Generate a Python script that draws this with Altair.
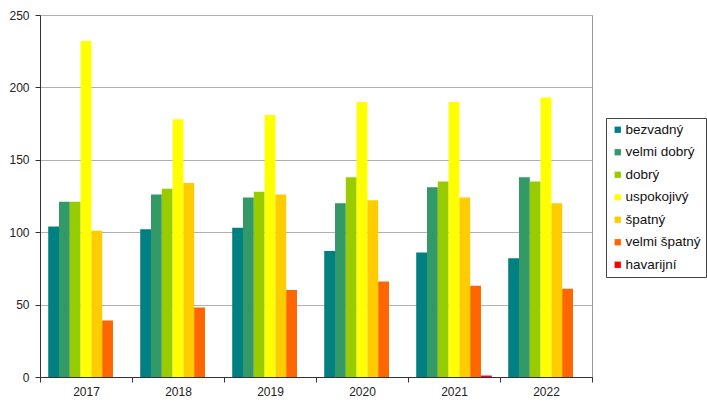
import altair as alt
import pandas as pd

years = ["2017", "2018", "2019", "2020", "2021", "2022"]
categories = ["bezvadný", "velmi dobrý", "dobrý", "uspokojivý", "špatný", "velmi špatný", "havarijní"]
colors = ["#008080", "#339966", "#99CC00", "#FFFF00", "#FFCC00", "#FF6600", "#FF0000"]

bezvadny = [104, 102, 103, 87, 86, 82]
velmi_dobry = [121, 126, 124, 120, 131, 138]
dobry = [121, 130, 128, 138, 135, 135]
uspokojivy = [232, 178, 181, 190, 190, 193]
spatny = [101, 134, 126, 122, 124, 120]
velmi_spatny = [39, 48, 60, 66, 63, 61]
havarijni = [0, 0, 0, 0, 1, 0]

series = [bezvadny, velmi_dobry, dobry, uspokojivy, spatny, velmi_spatny, havarijni]
rows = []
for cat, vals in zip(categories, series):
    for y, v in zip(years, vals):
        rows.append({"rok": y, "stav": cat, "hodnota": v})
df = pd.DataFrame(rows)

FONT = "Liberation Sans"

chart = alt.Chart(df).mark_bar().encode(
    x=alt.X("rok:N", sort=years, title=None,
            scale=alt.Scale(paddingInner=0, paddingOuter=0),
            axis=alt.Axis(labelAngle=0, tickBand="extent", domainColor="#333333",
                          tickColor="#333333", tickSize=5, labelFontSize=12,
                          labelColor="#222222", labelFont=FONT, labelPadding=4)),
    xOffset=alt.XOffset("stav:N", sort=categories,
                        scale=alt.Scale(paddingInner=0, paddingOuter=0.76)),
    y=alt.Y("hodnota:Q", title=None,
            scale=alt.Scale(domain=[0, 250], nice=False),
            axis=alt.Axis(values=[0, 50, 100, 150, 200, 250], domainColor="#333333",
                          tickColor="#333333", tickSize=5, gridColor="#b0b0b0",
                          labelFontSize=12, labelColor="#222222", labelFont=FONT,
                          labelPadding=6)),
    color=alt.Color("stav:N", sort=categories,
                    scale=alt.Scale(domain=categories, range=colors),
                    legend=alt.Legend(title=None, orient="none", legendX=566, legendY=103,
                                      symbolType="square", symbolSize=40,
                                      symbolStrokeWidth=0, labelFontSize=13.5,
                                      labelFont=FONT, labelColor="#111111",
                                      rowPadding=7.5, padding=5, strokeColor="#444444",
                                      fillColor="white", labelOffset=1)),
).properties(
    width=552, height=362,
    autosize=alt.AutoSizeParams(type="none"),
    padding={"left": 40, "top": 15, "right": 115, "bottom": 26},
).configure_view(
    stroke="#999999", strokeWidth=1
)

chart.save("out.html", embed_options={"renderer": "svg", "actions": False})
